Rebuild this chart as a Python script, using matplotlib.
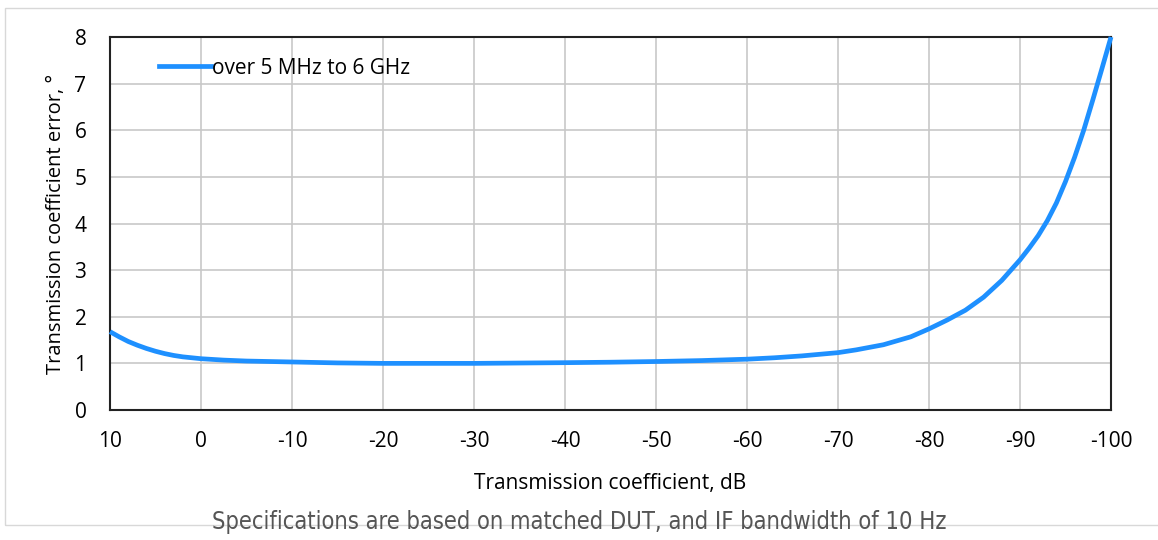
"""Transmission coefficient phase error vs transmission coefficient."""
import matplotlib
matplotlib.use('Agg')
import matplotlib.pyplot as plt
from matplotlib.lines import Line2D
from matplotlib.patches import Rectangle

# ---------------------------------------------------------------------------
# Data
# ---------------------------------------------------------------------------
trans_db = [10, 9, 8, 7, 6, 5, 4, 3, 2, 1, 0, -2.5, -5, -7.5, -10, -15, -20,
            -30, -40, -45, -50, -55, -60, -63, -66, -70, -72, -75, -78, -80,
            -82, -84, -86, -88, -90, -91, -92, -93, -94, -95, -96, -97, -98,
            -99, -100]
phase_err = [1.68, 1.57, 1.47, 1.39, 1.32, 1.26, 1.21, 1.17, 1.14, 1.12, 1.10,
             1.07, 1.05, 1.04, 1.03, 1.01, 1.0, 1.0, 1.015, 1.025, 1.04, 1.06,
             1.09, 1.12, 1.16, 1.23, 1.29, 1.40, 1.57, 1.74, 1.93, 2.14, 2.42,
             2.78, 3.22, 3.47, 3.74, 4.06, 4.44, 4.9, 5.42, 6.0, 6.65, 7.32, 8.0]
x_ticks = list(range(10, -101, -10))
y_ticks = list(range(0, 9))
series_label = 'over 5 MHz to 6 GHz'
caption = 'Specifications are based on matched DUT, and IF bandwidth of 10 Hz'

BLUE = '#1e90ff'
GRID = '#c8c8c8'

plt.rcParams['font.family'] = ['Open Sans', 'DejaVu Sans']
plt.rcParams['axes.unicode_minus'] = False

fig = plt.figure(figsize=(11.58, 5.40), dpi=100)
ax = fig.add_axes([110 / 1158, 1 - 410 / 540, 1001 / 1158, 373 / 540])

ax.plot(trans_db, phase_err, color=BLUE, linewidth=3.4, solid_capstyle='butt',
        solid_joinstyle='round', clip_on=False, zorder=3)
ax.set_xlim(10, -100)
ax.set_ylim(0, 8)
ax.set_xticks(x_ticks)
ax.set_yticks(y_ticks)
ax.tick_params(length=0, labelsize=15)
ax.tick_params(axis='x', pad=15)
ax.tick_params(axis='y', pad=17)
ax.grid(color=GRID, linewidth=1.2)
ax.set_axisbelow(True)
for sp in ax.spines.values():
    sp.set_linewidth(1.5)
    sp.set_color('#222222')

ax.set_xlabel('Transmission coefficient, dB', fontsize=15, labelpad=15)
ax.set_ylabel('Transmission coefficient error, °', fontsize=14.5, labelpad=6)

ax.legend(handles=[Line2D([], [], color=BLUE, linewidth=3.4)], labels=[series_label],
          loc='upper left', bbox_to_anchor=(0.03, 0.995), frameon=False,
          fontsize=15, handlelength=2.5, handletextpad=0.05)

# outer frame of the screenshot
fig.patches.append(Rectangle((5 / 1158, 1 - 525 / 540), 1.2, (525 - 8) / 540,
                             transform=fig.transFigure, fill=False,
                             edgecolor='#d8d8d8', linewidth=1.0))

fig.text(0.5, 1 - 522 / 540, caption, ha='center', va='center', fontsize=17,
         color='#555555', family=['Liberation Sans Narrow', 'DejaVu Sans'],
         fontstretch='condensed')

fig.savefig('out.png', dpi=100)
